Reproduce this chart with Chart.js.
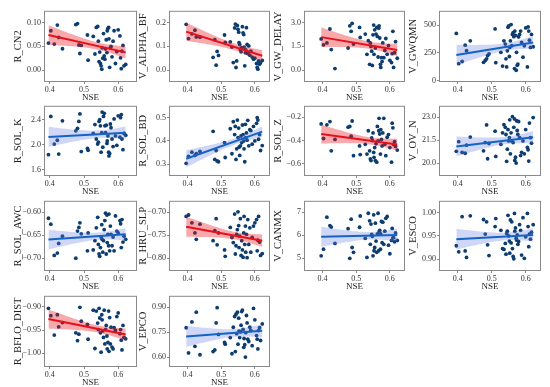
<!DOCTYPE html>
<html>
<head>
<meta charset="utf-8">
<script src="https://cdn.jsdelivr.net/npm/chart.js@4.4.0/dist/chart.umd.min.js"></script>
<style>
html, body { margin: 0; padding: 0; background: #fff; }
#wrap { position: relative; width: 550px; height: 387px; overflow: hidden; }
#wrap canvas { position: absolute; }
</style>
</head>
<body>
<div id="wrap"></div>
<script>
// shared x values (NSE of each run)
const nse = [0.396,0.403,0.413,0.422,0.426,0.437,
  0.476,0.481,0.485,0.488,0.492,
  0.510,0.512,
  0.527,0.532,0.536,0.540,0.542,0.544,0.546,0.548,0.550,0.552,
  0.553,0.555,0.557,0.559,0.561,0.563,0.565,0.567,0.568,0.570,
  0.572,0.573,0.575,0.577,0.579,0.582,0.585,0.588,0.592,0.596,
  0.600,0.605,0.607,0.609,0.611,0.614,0.617,0.622];
const nseTicks = ['0.4', '0.5', '0.6'];

const rCN2 = [0.057,0.083,0.055,0.095,0.069,0.045,
  0.096,0.098,0.053,0.035,0.052,
  0.074,0.021,
  0.071,0.034,0.090,0.092,0.061,0.018,0.038,0.014,0.009,0.002,
  0.047,0.025,0.077,0.030,0.023,0.045,0.064,0.037,0.083,0.088,
  0.090,0.066,0.006,0.047,0.050,0.028,0.061,0.083,0.014,0.039,
  0.085,0.072,0.026,0.003,0.040,0.052,0.009,0.012];
const rCN2Ticks = ['0.00', '0.05', '0.10'];

const vAlphaBF = [0.193,0.133,0.153,0.168,0.140,0.139,
  0.054,0.128,0.021,0.079,0.062,
  0.148,0.117,
  0.119,0.097,0.032,0.178,0.194,0.011,0.039,0.188,0.172,0.160,
  0.116,0.108,0.087,0.077,0.095,0.183,0.157,0.150,0.097,0.018,
  0.073,0.085,0.179,0.108,0.070,0.102,0.063,0.080,0.055,0.046,
  0.050,0.028,0.011,0.004,0.039,0.025,0.032,0.041];
const vAlphaBFTicks = ['0.0', '0.1', '0.2'];

const vGwDelay = [1.97,1.60,1.72,2.60,1.30,0.10,
  1.40,2.80,2.45,2.95,1.65,
  2.70,2.07,
  2.28,1.00,1.86,0.37,1.72,1.50,1.20,0.30,2.23,2.85,
  1.00,2.55,1.40,2.28,2.70,2.13,0.83,2.65,2.80,2.03,
  0.37,0.17,0.79,0.54,1.72,0.79,1.24,2.00,1.00,1.55,
  0.62,0.48,1.04,2.45,0.17,1.10,1.80,0.75];
const vGwDelayTicks = ['0.0', '1.5', '3.0'];

const vGwqmn = [426,153,173,320,270,359,
  165,182,197,226,241,
  467,162,
  256,132,359,330,197,124,270,482,494,218,
  300,359,506,315,417,432,397,109,447,409,
  94,256,138,150,394,417,447,344,212,315,
  476,124,485,447,365,300,417,306];
const vGwqmnTicks = ['0', '250', '500'];

const rSolK = [1.84,2.45,2.01,2.07,1.85,2.38,
  2.22,2.26,2.37,2.49,1.89,
  1.94,1.91,
  2.18,2.32,2.09,2.01,2.04,2.37,2.40,2.30,1.88,2.19,
  2.52,1.96,2.45,2.50,2.30,2.19,2.31,2.02,2.06,2.14,
  1.88,1.82,1.86,2.33,2.27,2.09,1.97,2.41,2.14,1.99,
  2.46,2.12,2.43,2.48,2.09,1.92,2.18,2.15];
const rSolKTicks = ['1.6', '2.0', '2.4'];

const rSolBD = [0.304,0.334,0.352,0.338,0.345,0.355,
  0.441,0.321,0.359,0.314,0.311,
  0.393,0.329,
  0.452,0.345,0.482,0.427,0.462,0.321,0.366,0.489,0.414,0.455,
  0.373,0.338,0.379,0.421,0.393,0.468,0.427,0.400,0.366,0.311,
  0.471,0.414,0.434,0.403,0.488,0.379,0.448,0.444,0.386,0.462,
  0.400,0.475,0.499,0.489,0.407,0.427,0.359,0.380];
const rSolBDTicks = ['0.3', '0.4', '0.5'];

const rSolZ = [-0.256,-0.382,-0.264,-0.236,-0.488,-0.390,
  -0.284,-0.278,-0.362,-0.231,-0.530,
  -0.446,-0.520,
  -0.432,-0.516,-0.315,-0.488,-0.558,-0.572,-0.376,-0.399,-0.334,-0.502,
  -0.544,-0.460,-0.572,-0.427,-0.586,-0.278,-0.402,-0.315,-0.208,-0.343,
  -0.516,-0.306,-0.390,-0.446,-0.334,-0.208,-0.432,-0.530,-0.371,-0.348,
  -0.460,-0.586,-0.250,-0.290,-0.432,-0.410,-0.450,-0.482];
const rSolZTicks = ['\u22120.6', '\u22120.4', '\u22120.2'];

const vOvN = [20.77,21.40,20.70,20.64,21.17,21.70,
  20.80,21.34,22.50,20.28,21.28,
  22.09,20.43,
  21.23,21.98,22.51,22.34,21.87,20.11,20.91,22.19,21.45,21.66,
  22.83,20.60,21.98,21.45,23.04,21.34,22.34,22.89,20.17,20.38,
  20.00,22.77,22.13,21.87,22.72,21.66,20.49,20.70,21.45,20.60,
  22.19,21.02,20.87,20.13,22.62,21.66,21.30,22.98];
const vOvNTicks = ['20.0', '21.5', '23.0'];

const rSolAwc = [-0.613,-0.626,-0.694,-0.689,-0.668,-0.652,
  -0.700,-0.641,-0.633,-0.623,-0.647,
  -0.684,-0.645,
  -0.682,-0.662,-0.634,-0.611,-0.670,-0.691,-0.696,-0.677,-0.654,-0.627,
  -0.659,-0.687,-0.662,-0.638,-0.618,-0.602,-0.691,-0.606,-0.666,-0.648,
  -0.673,-0.604,-0.684,-0.630,-0.648,-0.673,-0.654,-0.684,-0.608,-0.641,
  -0.645,-0.618,-0.625,-0.677,-0.616,-0.665,-0.652,-0.659];
const rSolAwcTicks = ['\u22120.70', '\u22120.65', '\u22120.60'];

const rHruSlp = [-0.709,-0.706,-0.723,-0.745,-0.759,-0.726,
  -0.762,-0.740,-0.714,-0.771,-0.745,
  -0.782,-0.796,
  -0.733,-0.755,-0.766,-0.704,-0.791,-0.773,-0.748,-0.738,-0.699,-0.729,
  -0.777,-0.752,-0.714,-0.794,-0.762,-0.782,-0.798,-0.745,-0.709,-0.770,
  -0.730,-0.787,-0.748,-0.799,-0.716,-0.770,-0.734,-0.787,-0.755,-0.730,
  -0.723,-0.716,-0.784,-0.761,-0.709,-0.765,-0.794,-0.790];
const rHruSlpTicks = ['\u22120.80', '\u22120.75', '\u22120.70'];

const vCanmx = [5.11,5.40,6.79,6.42,6.36,5.65,
  6.29,5.00,6.70,5.47,5.26,
  6.35,6.84,
  5.87,5.04,6.96,6.63,5.61,6.49,6.04,5.96,5.11,6.89,
  5.33,5.47,6.53,5.75,5.26,6.06,6.96,5.33,6.15,6.21,
  5.40,6.06,6.60,5.68,6.57,5.61,6.18,6.74,6.82,5.57,
  5.20,5.78,6.30,5.89,5.90,5.72,6.10,5.78];
const vCanmxTicks = ['5', '6', '7'];

const vEsco = [0.929,0.916,0.991,0.918,0.904,0.993,
  0.985,0.954,0.980,0.931,0.908,
  0.970,0.987,
  0.962,0.923,0.921,0.934,0.911,0.955,0.960,0.994,0.950,0.939,
  0.913,0.984,0.935,0.980,0.923,0.906,0.901,0.998,0.960,0.967,
  0.945,0.941,0.952,0.932,0.938,0.974,0.962,0.909,0.989,0.902,
  0.948,0.998,0.970,0.927,0.954,0.943,0.958,0.974];
const vEscoTicks = ['0.90', '0.95', '1.00'];

const rBfloDist = [-0.903,-0.919,-0.961,-0.917,-0.943,-0.934,
  -0.956,-0.973,-0.959,-0.901,-0.931,
  -0.938,-0.970,
  -0.907,-0.990,-0.909,-0.935,-0.949,-0.903,-0.924,-0.956,-0.998,-0.917,
  -0.928,-0.952,-0.966,-0.907,-0.980,-0.949,-0.940,-0.963,-0.991,-0.977,
  -0.909,-0.996,-0.923,-0.980,-0.944,-0.987,-0.991,-0.945,-0.951,-0.921,
  -0.913,-0.958,-0.949,-0.972,-0.993,-0.940,-0.966,-0.969];
const rBfloDistTicks = ['\u22121.00', '\u22120.95', '\u22120.90'];

const vEpco = [0.777,0.625,0.812,0.665,0.871,0.614,
  0.633,0.643,0.806,0.898,0.737,
  0.688,0.678,
  0.718,0.620,0.780,0.845,0.633,0.859,0.741,0.871,0.678,0.835,
  0.757,0.718,0.753,0.792,0.875,0.884,0.767,0.659,0.712,0.675,
  0.600,0.747,0.851,0.806,0.708,0.694,0.780,0.761,0.669,0.894,
  0.825,0.730,0.708,0.649,0.760,0.777,0.700,0.800];
const vEpcoTicks = ['0.60', '0.75', '0.90'];

const panels = [
  { label: 'R_CN2', values: rCN2, ticks: rCN2Ticks, yMin: -0.025, yMax: 0.125 },
  { label: 'V_ALPHA_BF', values: vAlphaBF, ticks: vAlphaBFTicks, yMin: -0.05, yMax: 0.25 },
  { label: 'V_GW_DELAY', values: vGwDelay, ticks: vGwDelayTicks, yMin: -0.75, yMax: 3.75 },
  { label: 'V_GWQMN', values: vGwqmn, ticks: vGwqmnTicks, yMin: -12, yMax: 630 },
  { label: 'R_SOL_K', values: rSolK, ticks: rSolKTicks, yMin: 1.5, yMax: 2.62 },
  { label: 'R_SOL_BD', values: rSolBD, ticks: rSolBDTicks, yMin: 0.25, yMax: 0.55 },
  { label: 'R_SOL_Z', values: rSolZ, ticks: rSolZTicks, yMin: -0.705, yMax: -0.1 },
  { label: 'V_OV_N', values: vOvN, ticks: vOvNTicks, yMin: 19.15, yMax: 23.75 },
  { label: 'R_SOL_AWC', values: rSolAwc, ticks: rSolAwcTicks, yMin: -0.728, yMax: -0.575 },
  { label: 'R_HRU_SLP', values: rHruSlp, ticks: rHruSlpTicks, yMin: -0.828, yMax: -0.675 },
  { label: 'V_CANMX', values: vCanmx, ticks: vCanmxTicks, yMin: 4.45, yMax: 7.5 },
  { label: 'V_ESCO', values: vEsco, ticks: vEscoTicks, yMin: 0.875, yMax: 1.025 },
  { label: 'R_BFLO_DIST', values: rBfloDist, ticks: rBfloDistTicks, yMin: -1.03, yMax: -0.876 },
  { label: 'V_EPCO', values: vEpco, ticks: vEpcoTicks, yMin: 0.54, yMax: 0.97 }
];

// plot-area boxes of the 4x4 grid (px)
const colBox = [[44, 137], [169, 270], [304, 405], [439, 541]];
const rowBox = [[9, 82], [104, 176], [199, 271], [294, 367]];
const colXRange = [[0.383, 0.655], [0.345, 0.645], [0.345, 0.645], [0.345, 0.645]];

const serif = '"Liberation Serif", "Times New Roman", serif';
const pointColor = '#0d3d6e';
const red = { line: 'rgb(232,16,26)', band: 'rgba(232,16,26,0.36)' };
const blue = { line: 'rgb(20,100,195)', band: 'rgba(100,120,225,0.30)' };

const frame = {
    id: 'frame',
    afterDatasetsDraw(c) {
        const a = c.chartArea, ctx = c.ctx;
        ctx.save();
        ctx.strokeStyle = '#8a8a8a';
        ctx.lineWidth = 1;
        ctx.strokeRect(a.left + 0.5, a.top + 0.5, a.right - a.left - 1, a.bottom - a.top - 1);
        ctx.restore();
    }
};

function regress(xs, ys) {
    const n = xs.length;
    const mx = xs.reduce((s, v) => s + v, 0) / n;
    const my = ys.reduce((s, v) => s + v, 0) / n;
    let sxx = 0, sxy = 0;
    xs.forEach((x, i) => { sxx += (x - mx) ** 2; sxy += (x - mx) * (ys[i] - my); });
    const b = sxy / sxx, a = my - b * mx;
    let sse = 0;
    xs.forEach((x, i) => { sse += (ys[i] - (a + b * x)) ** 2; });
    const s = Math.sqrt(sse / (n - 2));
    return { a, b, mx, sxx, s, n };
}

const wrap = document.getElementById('wrap');

panels.forEach((p, i) => {
    const col = i % 4, row = Math.floor(i / 4);
    const [pl, pr] = colBox[col];
    const [pt, pb] = rowBox[row];
    const yW = 32, xH = 21, padT = 4, padR = 4;
    const left = pl - yW, top = pt - padT;
    const w = pr - left + padR, h = pb - top + xH;

    const cv = document.createElement('canvas');
    cv.width = w; cv.height = h;
    cv.style.left = left + 'px'; cv.style.top = top + 'px';
    cv.style.width = w + 'px'; cv.style.height = h + 'px';
    wrap.appendChild(cv);

    const fit = regress(nse, p.values);
    const colors = fit.b < 0 ? red : blue;
    const x0 = Math.min(...nse), x1 = Math.max(...nse);
    const lower = [], upper = [];
    for (let k = 0; k <= 40; k++) {
        const x = x0 + (x1 - x0) * k / 40;
        const yh = fit.a + fit.b * x;
        const se = fit.s * Math.sqrt(1 / fit.n + (x - fit.mx) ** 2 / fit.sxx);
        lower.push({ x, y: yh - 2.01 * se });
        upper.push({ x, y: yh + 2.01 * se });
    }

    new Chart(cv, {
        type: 'scatter',
        data: {
            datasets: [
                { type: 'line', data: lower, borderColor: 'transparent', borderWidth: 0, pointRadius: 0, fill: false, order: 2 },
                { type: 'line', data: upper, borderColor: 'transparent', borderWidth: 0, pointRadius: 0, fill: '-1', backgroundColor: colors.band, order: 2 },
                { type: 'line', data: [{ x: x0, y: fit.a + fit.b * x0 }, { x: x1, y: fit.a + fit.b * x1 }],
                  borderColor: colors.line, borderWidth: 2, pointRadius: 0, fill: false, order: 1 },
                { data: nse.map((x, k) => ({ x, y: p.values[k] })), pointRadius: 1.9, pointBackgroundColor: pointColor,
                  pointBorderWidth: 0, order: 3 }
            ]
        },
        options: {
            responsive: false,
            animation: false,
            layout: { padding: { top: padT, right: padR, left: 0, bottom: 0 } },
            plugins: { legend: { display: false }, tooltip: { enabled: false } },
            scales: {
                x: {
                    type: 'linear',
                    min: colXRange[col][0], max: colXRange[col][1],
                    afterFit(s) { s.height = xH; },
                    afterBuildTicks(s) { s.ticks = nseTicks.map(t => ({ value: parseFloat(t) })); },
                    ticks: { callback: (v, idx) => nseTicks[idx], font: { family: serif, size: 8 }, color: '#333', padding: 1, maxRotation: 0 },
                    grid: { drawOnChartArea: false, tickLength: 2, color: '#888' },
                    border: { display: false },
                    title: { display: true, text: 'NSE', font: { family: serif, size: 9 }, color: '#222', padding: { top: 0, bottom: 0 } }
                },
                y: {
                    type: 'linear',
                    min: p.yMin, max: p.yMax,
                    afterFit(s) { s.width = yW; },
                    afterBuildTicks(s) { s.ticks = p.ticks.map(t => ({ value: parseFloat(t.replace('\u2212', '-')) })); },
                    ticks: { callback: (v, idx) => p.ticks[idx], font: { family: serif, size: 8 }, color: '#333', padding: 1 },
                    grid: { drawOnChartArea: false, tickLength: 2, color: '#888' },
                    border: { display: false },
                    title: { display: true, text: p.label, font: { family: serif, size: 10.5 }, color: '#222', padding: { top: 0, bottom: 0 } }
                }
            }
        },
        plugins: [frame]
    });
});
</script>
</body>
</html>
